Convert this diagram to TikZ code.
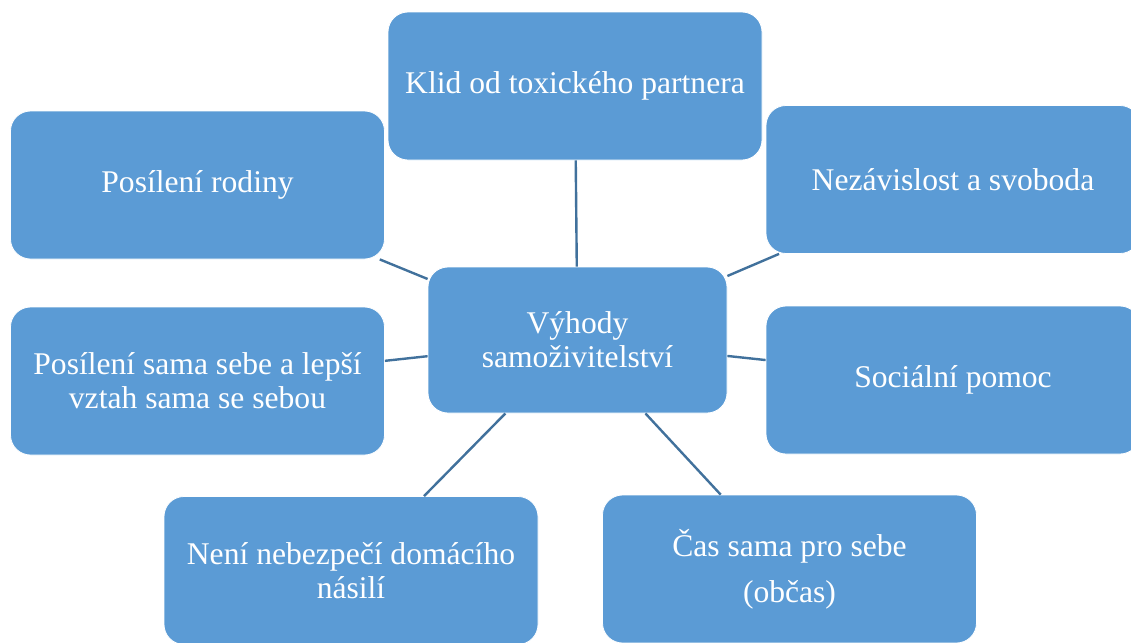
\documentclass[tikz,border=0pt]{standalone}
\usepackage{fontspec}
\setmainfont{Liberation Serif}
\definecolor{boxblue}{HTML}{5B9BD5}
\definecolor{linkblue}{HTML}{41719C}

\tikzset{
    box/.style={rectangle, rounded corners=10pt, fill=boxblue, draw=white, line width=0.4pt,
        text=white, align=center, inner sep=0, minimum width=187pt, minimum height=74pt,
        font=\fontsize{15.8}{17}\selectfont},
    hub/.style={box, minimum width=149.5pt, minimum height=73pt},
    link/.style={draw=linkblue, line width=1.2pt}
    }

\begin{document}
\begin{tikzpicture}[x=0.5pt, y=-0.5pt]
                \useasboundingbox (0,0) rectangle (1131,643);
                % The hub
                \node(hub)[hub] at (577.5,340) {Výhody\\samoživitelství};
                % The boxes around it
                \node(klid)[box] at (575,86) {Klid od toxického partnera};
                \node(rodiny)[box] at (197.5,185) {Posílení rodiny};
                \node(svoboda)[box] at (953,179.5) {Nezávislost a svoboda};
                \node(sebe)[box] at (197.5,381) {Posílení sama sebe a lepší\\vztah sama se sebou};
                \node(pomoc)[box] at (953,380) {Sociální pomoc};
                \node(nasili)[box] at (351,570.5) {Není nebezpečí domácího\\násilí};
                \node(cas)[box] at (789.5,569) {Čas sama pro sebe\\[6pt](občas)};
                % The links
                \foreach \n in {klid,rodiny,svoboda,sebe,pomoc,nasili,cas}
                    \draw[link] (hub) -- (\n);
            \end{tikzpicture}
\end{document}
